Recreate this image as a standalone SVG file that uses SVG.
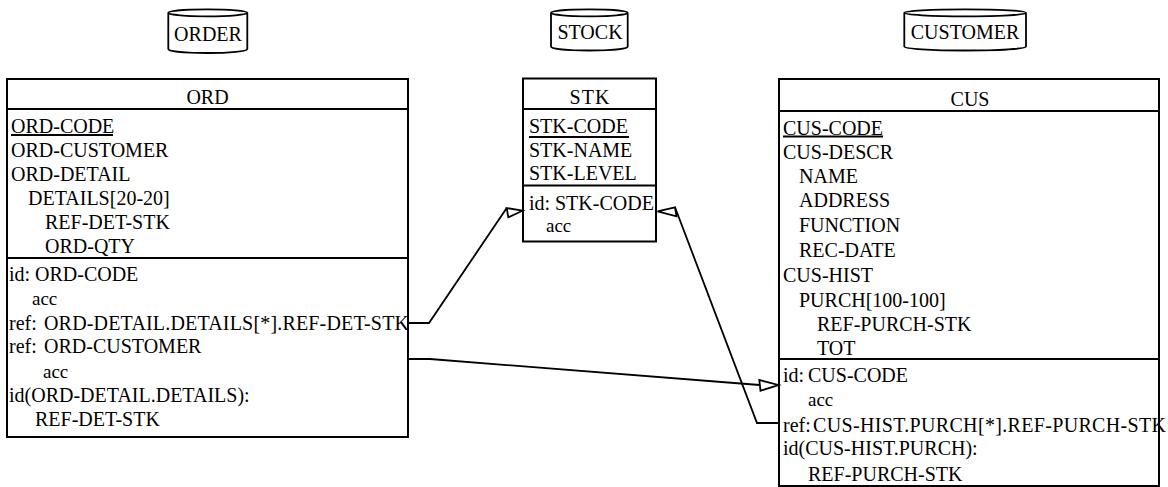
<svg xmlns="http://www.w3.org/2000/svg" width="1168" height="487" viewBox="0 0 1168 487">
<style>
text{font-family:"Liberation Serif","Times New Roman",serif;font-size:20px;fill:#000}
.c{text-anchor:middle}
.acc{font-size:19px}
.box{fill:#fff;stroke:#000;stroke-width:2}
.sep{stroke:#000;stroke-width:2}
.ul{stroke:#000;stroke-width:2}
.cyl{fill:#fff;stroke:#000;stroke-width:1.8}
.conn{fill:none;stroke:#000;stroke-width:1.8}
.arr{fill:#fff;stroke:#000;stroke-width:1.8;stroke-linejoin:miter}
</style>
<rect width="1168" height="487" fill="#fff"/>

<g id="db-order">
<path class="cyl" d="M168.3,12.8 A39.5,3.5 0 0 1 247.3,12.8 A39.5,3.5 0 0 1 168.3,12.8 V49 A39.5,4 0 0 0 247.3,49 V12.8"/>
<text class="c" x="208" y="40.5">ORDER</text>
</g>
<g id="db-stock">
<path class="cyl" d="M551,12.8 A38.35,3.5 0 0 1 627.7,12.8 A38.35,3.5 0 0 1 551,12.8 V46.5 A38.35,4 0 0 0 627.7,46.5 V12.8"/>
<text class="c" x="590" y="38.5">STOCK</text>
</g>
<g id="db-customer">
<path class="cyl" d="M904.3,12.8 A60.85,3.5 0 0 1 1026,12.8 A60.85,3.5 0 0 1 904.3,12.8 V46.5 A60.85,4 0 0 0 1026,46.5 V12.8"/>
<text class="c" x="965" y="38.5">CUSTOMER</text>
</g>

<g id="ord">
<rect class="box" x="7" y="79" width="401" height="358"/>
<line class="sep" x1="7" y1="109" x2="409" y2="109"/>
<line class="sep" x1="7" y1="258" x2="409" y2="258"/>
<text class="c" x="207.5" y="104">ORD</text>
<text x="11" y="132.5">ORD-CODE</text>
<line class="ul" x1="11" y1="135" x2="113" y2="135"/>
<text x="11" y="156.5">ORD-CUSTOMER</text>
<text x="11" y="180.5">ORD-DETAIL</text>
<text x="28" y="204.5">DETAILS[20-20]</text>
<text x="45" y="228.5">REF-DET-STK</text>
<text x="45" y="252.5">ORD-QTY</text>
<text x="9" y="281">id:</text><text x="35" y="281">ORD-CODE</text>
<text class="acc" x="32" y="305">acc</text>
<text x="9" y="329.5">ref:</text><text x="44" y="329.5" textLength="365" lengthAdjust="spacing">ORD-DETAIL.DETAILS[*].REF-DET-STK</text>
<text x="9" y="353">ref:</text><text x="44" y="353">ORD-CUSTOMER</text>
<text class="acc" x="43" y="378">acc</text>
<text x="9" y="402">id(ORD-DETAIL.DETAILS):</text>
<text x="35" y="426">REF-DET-STK</text>
</g>

<g id="stk">
<rect class="box" x="523" y="78.5" width="133" height="163"/>
<line class="sep" x1="523" y1="109" x2="657" y2="109"/>
<line class="sep" x1="523" y1="185.5" x2="657" y2="185.5"/>
<text class="c" x="590" y="103.5" style="letter-spacing:1px">STK</text>
<text x="529" y="133.3">STK-CODE</text>
<line class="ul" x1="529" y1="137" x2="629" y2="137"/>
<text x="529" y="156.5">STK-NAME</text>
<text x="529" y="180">STK-LEVEL</text>
<text x="529" y="210">id:</text><text x="555" y="210">STK-CODE</text>
<text class="acc" x="546" y="231.5">acc</text>
</g>

<g id="cus">
<rect class="box" x="779" y="79" width="380" height="407"/>
<line class="sep" x1="779" y1="111" x2="1160" y2="111"/>
<line class="sep" x1="779" y1="359" x2="1160" y2="359"/>
<text class="c" x="970" y="106">CUS</text>
<text x="783" y="134.5">CUS-CODE</text>
<line class="ul" x1="783" y1="136.5" x2="883" y2="136.5"/>
<text x="783" y="158.5">CUS-DESCR</text>
<text x="799" y="183">NAME</text>
<text x="799" y="207">ADDRESS</text>
<text x="799" y="231.5">FUNCTION</text>
<text x="799" y="256.5">REC-DATE</text>
<text x="783" y="282">CUS-HIST</text>
<text x="799" y="306.5">PURCH[100-100]</text>
<text x="817" y="330.5">REF-PURCH-STK</text>
<text x="817" y="355">TOT</text>
<text x="783" y="382">id:</text><text x="808" y="382">CUS-CODE</text>
<text class="acc" x="808" y="406">acc</text>
<text x="783" y="431.5">ref:</text><text x="813" y="431.5" textLength="353" lengthAdjust="spacing">CUS-HIST.PURCH[*].REF-PURCH-STK</text>
<text x="783" y="455">id(CUS-HIST.PURCH):</text>
<text x="808" y="480.5">REF-PURCH-STK</text>
</g>

<g id="connectors">
<polyline class="conn" points="408,323 429,323 506.7,208"/>
<polygon class="arr" points="506.7,208 508.3,217.3 522.5,210.7"/>
<polyline class="conn" points="408,359 430,359 759.5,385"/>
<polygon class="arr" points="759.3,380 760.5,390.7 778.5,385"/>
<polyline class="conn" points="779,423 757,423 675,207.3"/>
<polygon class="arr" points="657.5,211.3 675,207.3 676.5,216.3"/>
</g>
</svg>
